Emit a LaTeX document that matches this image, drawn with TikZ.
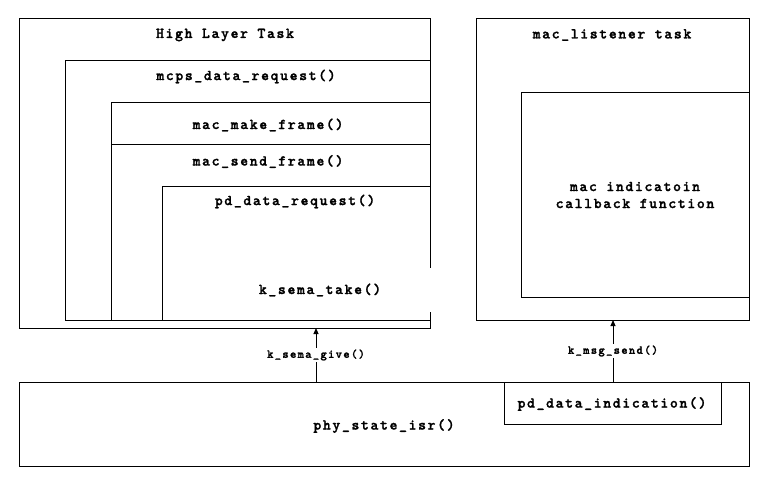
\documentclass[tikz,border=0pt]{standalone}
\usepackage{fontspec}
\newfontfamily\diafont[LetterSpace=11, FakeBold=1.6, Extension=.otf]{lmmonolt10-bold}
\newfontfamily\sdiafont[LetterSpace=11, FakeBold=1.6, Extension=.otf]{lmmonolt10-bold}
\usetikzlibrary{arrows.meta}
\begin{document}
\begin{tikzpicture}[x=1pt,y=-1pt,
  box/.style={draw, line width=1pt, rectangle, anchor=north west, inner sep=0pt, outer sep=0pt},
  lbl/.style={font=\diafont\fontsize{15}{17}\selectfont, inner sep=1pt, align=center},
  slbl/.style={font=\sdiafont\fontsize{12}{14}\selectfont, fill=white, inner sep=1.5pt},
  arr/.style={line width=1pt, -{Triangle[length=6pt,width=5pt]}}]
\useasboundingbox[fill=white] (0,0) rectangle (776,480);
% boxes
\node[box, minimum width=411pt, minimum height=310pt] (hl) at (19,18) {};
\node[box, minimum width=365pt, minimum height=260pt] (mcps) at (65,60) {};
\node[box, minimum width=319pt, minimum height=42pt] (make) at (111,102) {};
\node[box, minimum width=319pt, minimum height=176pt] (send) at (111,144) {};
\node[box, minimum width=268pt, minimum height=134pt] (pdreq) at (162,186) {};
\node[box, minimum width=273pt, minimum height=302pt] (ml) at (476,18) {};
\node[box, minimum width=228pt, minimum height=205pt] (cb) at (521,92) {};
\node[box, minimum width=730pt, minimum height=84pt] (phy) at (19,382) {};
\node[box, minimum width=217pt, minimum height=42pt] (pdi) at (504,382) {};
% texts
\node[lbl] (thl) at (225,35) {High Layer Task};
\node[lbl] (tmcps) at (246,76.5) {mcps\_data\_request()};
\node[lbl] (tmake) at (268,125) {mac\_make\_frame()};
\node[lbl] (tsend) at (268,161.5) {mac\_send\_frame()};
\node[lbl] (tpdreq) at (295,201.5) {pd\_data\_request()};
\node[lbl, fill=white, minimum width=224pt, minimum height=44pt] (take) at (320,290) {k\_sema\_take()};
\node[lbl] (tml) at (612,35) {mac\_listener task};
\node[lbl] (tcb) at (635,195) {mac indicatoin\\callback function};
\node[lbl] (tpdi) at (612,404) {pd\_data\_indication()};
\node[lbl] (tphy) at (384,426) {phy\_state\_isr()};
% connectors
\coordinate (sgx) at (316,0);
\coordinate (msx) at (613,0);
\draw[arr] (phy.north -| sgx) -- (hl.south -| sgx)
  node[slbl, midway] (tsg) {k\_sema\_give()};
\draw[arr] (pdi.north -| msx) -- (ml.south -| msx)
  node[slbl, midway] (tms) {k\_msg\_send()};
\end{tikzpicture}
\end{document}
